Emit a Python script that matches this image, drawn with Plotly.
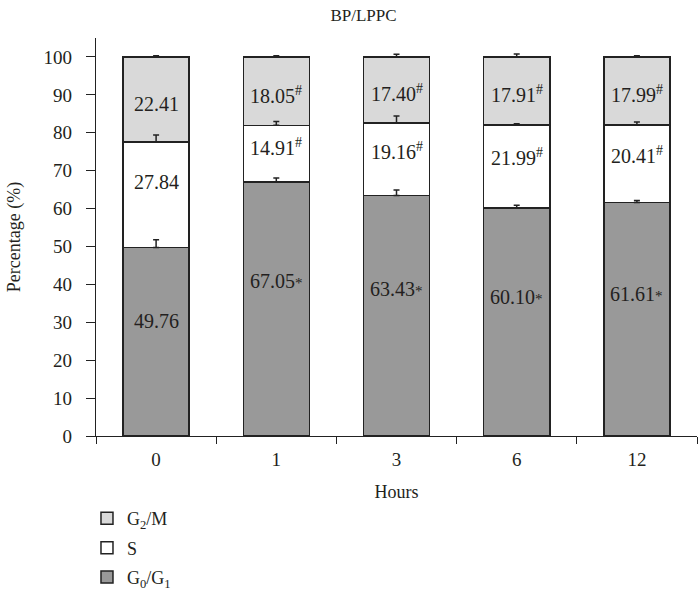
import plotly.graph_objects as go

hours = ["0", "1", "3", "6", "12"]
g0g1 = [49.76, 67.05, 63.43, 60.10, 61.61]
s_phase = [27.84, 14.91, 19.16, 21.99, 20.41]
g2m = [22.41, 18.05, 17.40, 17.91, 17.99]
g0g1_err = [2.0, 1.0, 1.5, 0.8, 0.5]
s_err = [1.8, 1.0, 1.8, 0.3, 0.8]
g2m_err = [0.3, 0.3, 0.7, 0.8, 0.3]
STAR = '<span style="font-size:15px">*</span>'
HASH = "<sup>#</sup>"
g0g1_lbl = ["49.76", "67.05" + STAR, "63.43" + STAR, "60.10" + STAR, "61.61" + STAR]
s_lbl = ["27.84", "14.91" + HASH, "19.16" + HASH, "21.99" + HASH, "20.41" + HASH]
g2m_lbl = ["22.41", "18.05" + HASH, "17.40" + HASH, "17.91" + HASH, "17.99" + HASH]

FONT = "Liberation Serif"
LINE = "#222222"
TXT = "#231f20"

series = [
    ("G<sub>0</sub>/G<sub>1</sub>", g0g1, g0g1_err, g0g1_lbl, "#999999", 3, 0.61),
    ("S", s_phase, s_err, s_lbl, "#ffffff", 2, 0.62),
    ("G<sub>2</sub>/M", g2m, g2m_err, g2m_lbl, "#d9d9d9", 1, 0.45),
]

fig = go.Figure()
base = [0.0] * len(hours)
annotations = []
err_traces = []
for name, vals, err, lbl, col, rank, frac in series:
    fig.add_trace(go.Bar(
        x=hours, y=vals, name=name,
        marker=dict(color=col, line=dict(color=LINE, width=1.5)),
        width=0.55, legendrank=rank, legendgroup=name, hoverinfo="skip",
    ))
    tops = [b + v for b, v in zip(base, vals)]
    err_traces.append(go.Scatter(
        x=hours, y=tops, mode="markers", marker=dict(size=1, color="rgba(0,0,0,0)"),
        error_y=dict(type="data", array=err, arrayminus=[0] * len(err), symmetric=False,
                     color=LINE, thickness=1.5, width=3),
        showlegend=False, hoverinfo="skip",
    ))
    for i, (b, v, t) in enumerate(zip(base, vals, lbl)):
        annotations.append(dict(x=i, y=b + frac * v, text=t, showarrow=False,
                                xref="x", yref="y",
                                font=dict(family=FONT, size=20, color=TXT)))
    base = tops

for tr in err_traces:
    fig.add_trace(tr)

fig.update_layout(
    barmode="stack",
    width=699, height=597,
    margin=dict(l=96, r=2, t=38, b=161, autoexpand=False),
    plot_bgcolor="white", paper_bgcolor="white",
    font=dict(family=FONT, size=18, color=TXT),
    title=dict(text="BP/LPPC", x=0.52, xref="container", y=0.975, yanchor="middle",
               font=dict(family=FONT, size=17, color=TXT)),
    xaxis=dict(type="category", range=[-0.5, 4.5], tickson="boundaries",
               showline=True, linecolor=LINE, linewidth=1.2, ticks="outside",
               ticklen=7, tickcolor=LINE, tickwidth=1.2, ticklabelstandoff=6,
               title=dict(text="Hours", standoff=16, font=dict(size=18)),
               tickfont=dict(size=19)),
    yaxis=dict(range=[0, 105], tickvals=list(range(0, 101, 10)),
               showline=True, linecolor=LINE, linewidth=1.2, ticks="outside",
               ticklen=9, tickcolor=LINE, tickwidth=1.2, showgrid=False, zeroline=False,
               ticklabelstandoff=10,
               title=dict(text="Percentage (%)", standoff=18, font=dict(size=18)),
               tickfont=dict(size=19)),
    showlegend=True,
    legend=dict(x=-0.015, xanchor="left", y=-0.161, yanchor="top", traceorder="grouped",
                tracegroupgap=3,
                font=dict(family=FONT, size=18, color=TXT), itemwidth=30),
    annotations=annotations,
)

fig.write_html("out.html")
